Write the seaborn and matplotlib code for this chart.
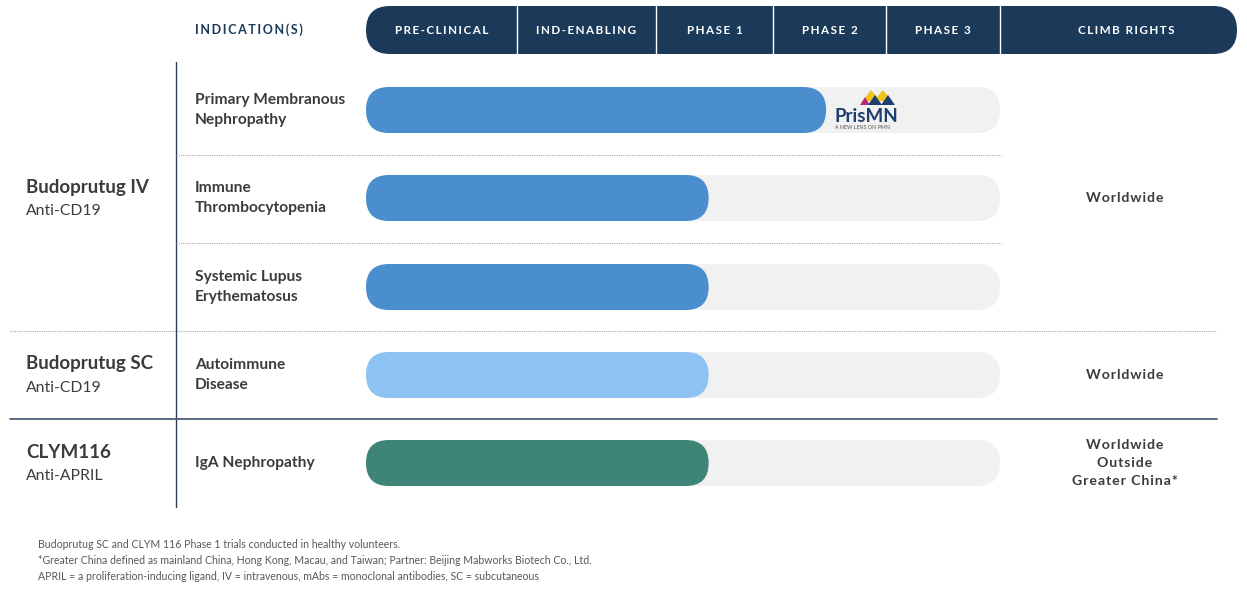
import numpy as np
import matplotlib
matplotlib.use('Agg')
import matplotlib.pyplot as plt
from matplotlib.patches import FancyBboxPatch, Polygon
import seaborn as sns

sns.set_theme(style='white')
plt.rcParams['font.family'] = ['Lato', 'DejaVu Sans']

# Data
stages = ['PRE-CLINICAL', 'IND-ENABLING', 'PHASE 1', 'PHASE 2', 'PHASE 3']
programs = ['Budoprutug IV', 'Budoprutug SC', 'CLYM116']
targets = ['Anti-CD19', 'Anti-CD19', 'Anti-APRIL']
program_rows = [[0, 1, 2], [3], [4]]
indications = ['Primary Membranous\nNephropathy', 'Immune\nThrombocytopenia',
               'Systemic Lupus\nErythematosus', 'Autoimmune\nDisease', 'IgA Nephropathy']
progress = [3.47, 2.45, 2.45, 2.45, 2.45]  # in stage units (0 = start of pre-clinical)
rights = ['Worldwide', 'Worldwide', 'Worldwide\nOutside\nGreater China*']
footnotes = ['Budoprutug SC and CLYM 116 Phase 1 trials conducted in healthy volunteers.',
             '*Greater China defined as mainland China, Hong Kong, Macau, and Taiwan; Partner: Beijing Mabworks Biotech Co., Ltd.',
             'APRIL = a proliferation-inducing ligand, IV = intravenous, mAbs = monoclonal antibodies, SC = subcutaneous']

# Colours
navy = '#1b3a5a'
bar_colors = ['#4a8ecd', '#4a8ecd', '#4a8ecd', '#8dc3f2', '#3e8577']
track = '#f1f1f1'
txt = '#3c3c3c'

# Layout (pixels)
stage_edges = [366, 517, 656, 773, 886, 1000]
rights_edges = [1000, 1237]
row_y = [110, 198, 287, 375, 463]
bar_h = 46


def stage_x(v):
    return np.interp(v, np.arange(len(stage_edges)), stage_edges)


def spaced(s, sep='\u2009'):
    return sep.join(s)


fig = plt.figure(figsize=(12.47, 5.9), dpi=100)
ax = fig.add_axes([0, 0, 1, 1])
ax.set_xlim(0, 1247)
ax.set_ylim(590, 0)
ax.axis('off')

# header band
ax.add_patch(FancyBboxPatch((stage_edges[0], 6), rights_edges[1] - stage_edges[0], 48,
                            boxstyle='round,pad=0,rounding_size=24', fc=navy, ec='none'))
for x in stage_edges[1:]:
    ax.plot([x, x], [6, 54], color='white', lw=1)
for i, s in enumerate(stages):
    ax.text((stage_edges[i] + stage_edges[i + 1]) / 2, 30, spaced(s), color='white',
            fontsize=8.4, fontweight='bold', ha='center', va='center')
ax.text(1126, 30, spaced('CLIMB RIGHTS'), color='white', fontsize=8.4, fontweight='bold',
        ha='center', va='center')
ax.text(195, 30, spaced('INDICATION(S)'), color=navy, fontsize=9, fontweight='bold',
        ha='left', va='center')

# grid lines
ax.plot([176, 176], [62, 507], color='#2d3e55', lw=1)
for y in [155, 243]:
    ax.plot([176, 1001], [y, y], color='#a9a9bb', lw=0.8, ls=(0, (1, 1)))
ax.plot([10, 1217], [331, 331], color='#a9a9bb', lw=0.8, ls=(0, (1, 1)))
ax.plot([10, 1217], [419, 419], color='#4b5f75', lw=1.3)

# bars
for i, y in enumerate(row_y):
    ax.add_patch(FancyBboxPatch((stage_x(0), y - bar_h / 2), stage_x(5) - stage_x(0), bar_h,
                                boxstyle='round,pad=0,rounding_size=23', fc=track, ec='none'))
    ax.add_patch(FancyBboxPatch((stage_x(0), y - bar_h / 2), stage_x(progress[i]) - stage_x(0), bar_h,
                                boxstyle='round,pad=0,rounding_size=23', fc=bar_colors[i], ec='none'))
    ax.text(195, y, indications[i], color=txt, fontsize=11.2, fontweight='bold',
            ha='left', va='center', linespacing=1.6)

# programs and rights
for j, rows in enumerate(program_rows):
    yc = np.mean([row_y[r] for r in rows])
    ax.text(26, yc - 11, programs[j], color=txt, fontsize=13.5, fontweight='bold',
            ha='left', va='center')
    ax.text(26, yc + 13, targets[j], color=txt, fontsize=11.3, ha='left', va='center')
    ax.text(1125, yc, '\n'.join(spaced(l, '\u200a') for l in rights[j].split('\n')), color=txt,
            fontsize=10.2, fontweight='bold', ha='center', va='center', linespacing=1.62)

# PrisMN logo
ax.add_patch(Polygon([(863, 101), (871, 90), (877, 97), (883, 90), (892, 101)], fc='#f2c318', ec='none'))
ax.add_patch(Polygon([(860, 105), (865, 97), (870, 105)], fc='#b8287a', ec='none'))
ax.add_patch(Polygon([(868, 105), (875, 95), (882, 105)], fc='#1d3e6e', ec='none'))
ax.add_patch(Polygon([(881, 105), (888, 95), (895, 105)], fc='#1d3e6e', ec='none'))
ax.text(834, 116, 'PrisMN', color='#1d3e6e', fontsize=13.5, fontweight='bold', ha='left', va='center')
ax.text(835, 127.5, 'A NEW LENS ON PMN', color='#555555', fontsize=3.8, ha='left', va='center')

# footnotes
for k, f in enumerate(footnotes):
    ax.text(38, 544 + k * 16, f, color='#595959', fontsize=7.6, ha='left', va='center')

fig.savefig('out.png', dpi=100)
